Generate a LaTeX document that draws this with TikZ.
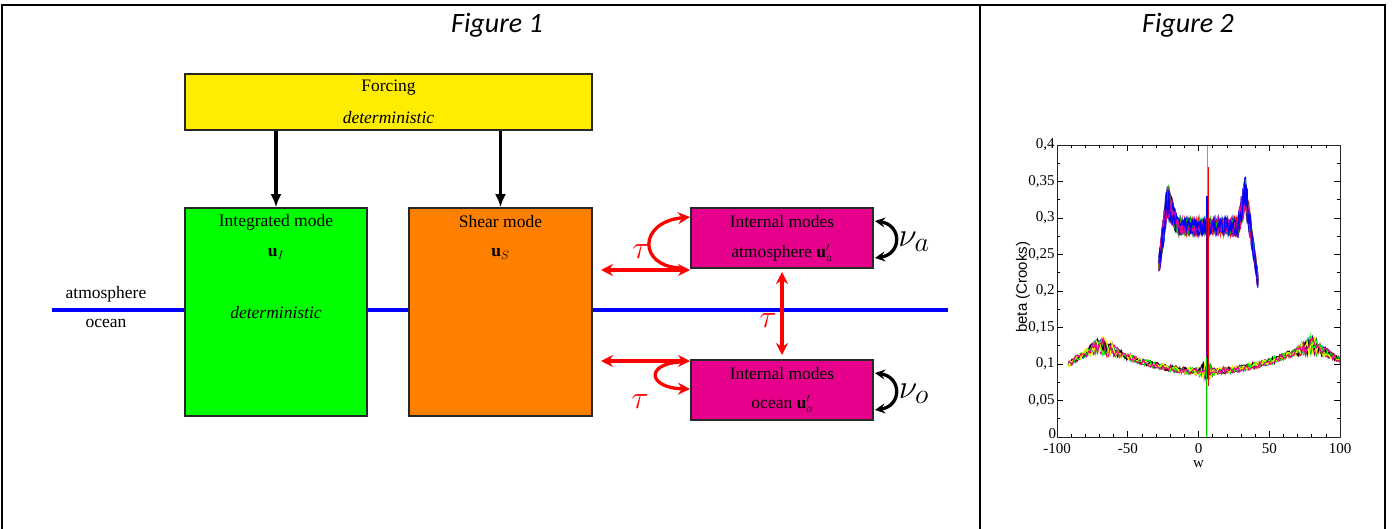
\documentclass[tikz,border=0pt]{standalone}
\usepackage{fontspec}
\setmainfont{Liberation Serif}
\newfontfamily\figfont{Carlito}
\newfontfamily\plotsans{Liberation Sans}
\usetikzlibrary{arrows.meta}
\definecolor{forceyellow}{RGB}{255,237,0}
\definecolor{intgreen}{RGB}{0,255,0}
\definecolor{shearorange}{RGB}{255,128,0}
\definecolor{intmag}{RGB}{230,0,140}
\definecolor{framegray}{RGB}{40,40,40}
\tikzset{
  modebox/.style={draw=framegray, line width=1.5pt, rectangle, inner sep=0pt},
  boxtext/.style={font=\fontsize{17.5}{20}\selectfont, inner sep=0pt},
  titletext/.style={font=\figfont\itshape\fontsize{28}{32}\selectfont, inner sep=0pt},
  forcearrow/.style={line width=3.3pt, -{Latex[length=13pt,width=11pt]}},
  redarrow/.style={red, line width=3.3pt, {Stealth[length=12pt,width=12pt,inset=4pt]}-{Stealth[length=12pt,width=12pt,inset=4pt]}},
  redcurve/.style={red, line width=3.3pt, -{Stealth[length=12pt,width=12pt,inset=4pt]}},
  nuarrow/.style={black, line width=3.3pt, {Stealth[length=10pt,width=10pt,inset=3.5pt]}-{Stealth[length=10pt,width=10pt,inset=3.5pt]}},
  greek/.style={font=\fontsize{24.88}{30}\selectfont, inner sep=0pt},
  tablerule/.style={line width=2.6pt, black},
  ticklab/.style={font=\fontsize{15}{17}\selectfont, inner sep=0pt},
  dataline/.style={line width=1.1pt}
}
\begin{document}
\begin{tikzpicture}[x=1pt, y=-1pt,
  declare function={
    gu(\w)=(\w < -22)*(0.235+(\w+28)/6*0.09)
          +(\w >= -22)*(\w < -15)*(0.325-(\w+22)/7*0.037)
          +(\w >= -15)*(\w < 28)*0.288
          +(\w >= 28)*(\w < 33)*(0.288+(\w-28)/5*0.047)
          +(\w >= 33)*(0.335-(\w-33)/9*0.12);
    ga(\w)=0.011+0.013*exp(-((\w+22)/5)*((\w+22)/5))+0.013*exp(-((\w-33)/5)*((\w-33)/5));
    fl(\w)=(\w < -70)*(0.1+(\w+92)/22*0.027)
          +(\w >= -70)*(\w < 80)*(0.09+0.037*((\w-5)/75)*((\w-5)/75))
          +(\w >= 80)*(0.127-(\w-80)/20*0.022);
    fa(\w)=0.0045+0.008*exp(-((\w+67)/9)*((\w+67)/9))+0.008*exp(-((\w-80)/9)*((\w-80)/9))+0.009*exp(-((\w-5)/4)*((\w-5)/4));
  }]
\useasboundingbox (0,0) rectangle (1394,529);
\fill[white] (0,0) rectangle (1394,529);

% table frame
\coordinate (tl) at (2,5);
\coordinate (tr) at (1385,5);
\coordinate (bl) at (2,529);
\coordinate (br) at (1385,529);
\coordinate (mt) at (980,5);
\coordinate (mb) at (980,529);
\draw[tablerule] (bl) -- (tl) -- (tr) -- (br);
\draw[tablerule] (mt) -- (mb);

\node[titletext] (fig1) at (497,25) {Figure 1};
\node[titletext] (fig2) at (1188,25) {Figure 2};

% ---------- Figure 1 ----------
\coordinate (lineL) at (52,310);
\coordinate (lineR) at (948,310);
\draw[blue, line width=4pt] (lineL) -- (lineR);
\node[boxtext] (atmlab) at (106,294) {atmosphere};
\node[boxtext] (ocelab) at (106,323) {ocean};

\node[modebox, fill=forceyellow, minimum width=407pt, minimum height=56pt] (forcing) at (388.5,102) {};
\node[boxtext] (forcingt) at (388.5,88) {Forcing};
\node[boxtext] (forcingd) at (388.5,118) {\itshape deterministic};

\node[modebox, fill=intgreen, minimum width=182pt, minimum height=208pt] (integ) at (276,312) {};
\node[boxtext] (integt) at (276,222) {Integrated mode};
\node[boxtext] (integu) at (276,254) {$\mathbf{u}_I$};
\node[boxtext] (integd) at (276,313) {\itshape deterministic};

\node[modebox, fill=shearorange, minimum width=183pt, minimum height=208pt] (shear) at (500.5,312) {};
\node[boxtext] (sheart) at (500.5,222) {Shear mode};
\node[boxtext] (shearu) at (500.5,254) {$\mathbf{u}_S$};

\node[modebox, fill=intmag, minimum width=182pt, minimum height=60pt] (atm) at (782,238) {};
\node[boxtext] (atmt) at (782,222) {Internal modes};
\node[boxtext] (atmu) at (782,253) {atmosphere $\mathbf{u}'_a$};

\node[modebox, fill=intmag, minimum width=182pt, minimum height=60pt] (oce) at (782,390) {};
\node[boxtext] (ocet) at (782,374) {Internal modes};
\node[boxtext] (oceu) at (782,404) {ocean $\mathbf{u}'_o$};

\draw[forcearrow] (forcing.south -| integ.north) -- (integ.north);
\draw[forcearrow] (forcing.south -| shear.north) -- (shear.north);

% red tau arrows
\coordinate (ta1) at (601,270);
\coordinate (ta2) at (690,270);
\coordinate (ta3) at (690,217);
\draw[redarrow] (ta1) -- (ta2);
\draw[redcurve] (680,268) .. controls (638,266) and (638,222) .. (ta3);

\coordinate (tb1) at (601,361);
\coordinate (tb2) at (690,361);
\coordinate (tb3) at (690,389);
\draw[redarrow] (tb1) -- (tb2);
\draw[redcurve] (680,362) .. controls (645,364) and (648,388) .. (tb3);

\coordinate (tv1) at (782,272);
\coordinate (tv2) at (782,355);
\draw[redarrow] (tv1) -- (tv2);

\node[greek, text=red] (tau1) at (641,252) {\scalebox{1.3}{$\tau$}};
\node[greek, text=red] (tau2) at (768,321) {\scalebox{1.3}{$\tau$}};
\node[greek, text=red] (tau3) at (640,402) {\scalebox{1.3}{$\tau$}};

% nu arrows
\coordinate (na1) at (875,221);
\coordinate (na2) at (875,258);
\draw[nuarrow] (na1) .. controls (902,225) and (902,254) .. (na2);
\node[greek] (nua) at (914,242) {\scalebox{1.35}{$\nu_a$}};
\coordinate (no1) at (875,373);
\coordinate (no2) at (875,410);
\draw[nuarrow] (no1) .. controls (902,377) and (902,406) .. (no2);
\node[greek] (nuo) at (914,394) {\scalebox{1.35}{$\nu_o$}};

% ---------- Figure 2 ----------
\begin{scope}[shift={(1198.5pt,-437pt)}, x=1.415pt, y=730pt]
  \pgfmathsetseed{11}
  % lower band
  \foreach \c in {blue!60!black, red, magenta, cyan, yellow!90!orange, violet, green!80!black, black, green, yellow, magenta} {
    \draw[dataline, \c] plot[domain=-92:100, samples=150] (\x, {fl(\x)+fa(\x)*rand});
  }
  % upper band
  \foreach \c in {red, yellow!90!orange, green!80!black, orange, cyan, blue, magenta, red, blue!80!black, green, violet, blue, red, green!70!black, blue, magenta, blue} {
    \draw[dataline, \c] plot[domain=-28:42, samples=120] (\x, {gu(\x)+ga(\x)*rand});
  }
  % central spike
  \draw[line width=1.2pt, orange] (6.6,0.05) -- (6.6,0.4);
  \draw[line width=1pt, red] (7.2,0.07) -- (7.2,0.37);
  \draw[line width=1.5pt, blue] (6.1,0.07) -- (6.1,0.33);
  \draw[line width=1pt, violet] (5.6,0.1) -- (5.6,0.3);
  \draw[line width=1.2pt, green!80!black] (5.4,0) -- (5.4,0.11);
  \draw[line width=1.2pt, yellow!90!orange] (6.3,0) -- (6.3,0.08);
  % axes frame and ticks
  \coordinate (pll) at (-100,0);
  \coordinate (pur) at (100,0.4);
  \draw[line width=1pt, black!85] (pll) rectangle (pur);
  \foreach \v in {0.05,0.1,...,0.351} {
    \draw[line width=0.7pt] (-100,\v) -- ++(6pt,0);
    \draw[line width=0.7pt] (100,\v) -- ++(-6pt,0);
  }
  \foreach \v in {0.025,0.075,...,0.38} {
    \draw[line width=0.6pt] (-100,\v) -- ++(3pt,0);
    \draw[line width=0.6pt] (100,\v) -- ++(-3pt,0);
  }
  \foreach \u in {-50,0,50} {
    \draw[line width=0.7pt] (\u,0) -- ++(0,6pt);
    \draw[line width=0.7pt] (\u,0.4) -- ++(0,-6pt);
  }
  \foreach \u in {-90,-80,-70,-60,-40,-30,-20,-10,10,20,30,40,60,70,80,90} {
    \draw[line width=0.6pt] (\u,0) -- ++(0,3pt);
    \draw[line width=0.6pt] (\u,0.4) -- ++(0,-3pt);
  }
  \foreach \v/\t in {0.05/{0,05},0.1/{0,1},0.15/{0,15},0.2/{0,2},0.25/{0,25},0.3/{0,3},0.35/{0,35},0.4/{0,4}} {
    \node[ticklab, anchor=east] at (-101.5,\v) {\t};
  }
  \node[ticklab, anchor=south east] (y0) at (-100.5,-0.002) {0};
  \foreach \u in {-100,-50,0,50,100} {
    \node[ticklab, anchor=north] at (\u,-0.009) {\u};
  }
  \node[ticklab] (xlab) at (0,-0.037) {w};
  \node[font=\plotsans\fontsize{15}{17}\selectfont, rotate=90, inner sep=0pt] (ylab) at (-124,0.205) {beta (Crooks)};
\end{scope}
\end{tikzpicture}
\end{document}
